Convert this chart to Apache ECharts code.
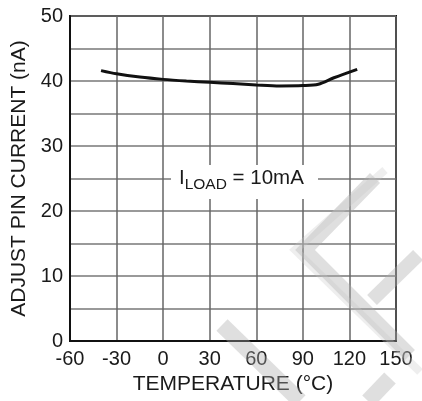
<!DOCTYPE html>
<html>
<head>
<meta charset="utf-8">
<script src="https://cdn.jsdelivr.net/npm/echarts@6/dist/echarts.min.js"></script>
<style>html,body{margin:0;padding:0;background:#fff}#c{width:422px;height:401px}</style>
</head>
<body>
<div id="c"></div>
<script>
const temperature = [-40, -30, -15, 0, 15, 30, 45, 60, 75, 90, 100, 110, 125];
const adjustCurrent = [41.6, 41.1, 40.6, 40.25, 40.0, 39.8, 39.6, 39.4, 39.25, 39.3, 39.5, 40.5, 41.8];
const xTicks = [-60, -30, 0, 30, 60, 90, 120, 150];
const yTicks = [0, 10, 20, 30, 40, 50];

const chart = echarts.init(document.getElementById('c'), null, {renderer: 'canvas'});
const font = 'Liberation Sans, Arial, sans-serif';
const wm = 'rgba(170,170,170,0.38)';
const wm2 = 'rgba(200,200,200,0.3)';
const tc = '#1a1a1a';
chart.setOption({
  animation: false,
  backgroundColor: '#fff',
  grid: {left: 70, right: 26, top: 16, bottom: 60, show: true, borderColor: '#111', borderWidth: 2, backgroundColor: 'transparent'},
  xAxis: {
    type: 'value', min: xTicks[0], max: xTicks[xTicks.length - 1], interval: 30,
    name: 'TEMPERATURE (°C)', nameLocation: 'middle', nameGap: 32,
    nameTextStyle: {fontFamily: font, fontSize: 21, color: tc},
    axisLine: {show: true, onZero: false, lineStyle: {color: '#111', width: 2}},
    axisTick: {show: false},
    axisLabel: {fontFamily: font, fontSize: 20, color: tc, margin: 8,
      formatter: v => xTicks.includes(v) ? String(v) : ''},
    splitLine: {show: true, lineStyle: {color: '#666', width: 1.5}}
  },
  yAxis: {
    type: 'value', min: 0, max: 50, interval: 5,
    name: 'ADJUST PIN CURRENT (nA)', nameLocation: 'middle', nameGap: 34,
    nameTextStyle: {fontFamily: font, fontSize: 21, color: tc},
    axisLine: {show: true, onZero: false, lineStyle: {color: '#111', width: 2}},
    axisTick: {show: false},
    axisLabel: {fontFamily: font, fontSize: 20, color: tc, margin: 7,
      formatter: v => yTicks.includes(v) ? String(v) : ''},
    splitLine: {show: true, lineStyle: {color: '#777', width: 1.5}}
  },
  series: [{
    type: 'line', smooth: 0.3, symbol: 'none',
    data: temperature.map((t, i) => [t, adjustCurrent[i]]),
    lineStyle: {color: '#111', width: 3}
  }],
  graphic: [
    {type: 'rect', shape: {x: 171, y: 165, width: 147, height: 34}, style: {fill: '#fff'}, z: 5},
    {type: 'text', x: 179, y: 168, z: 6, style: {
      text: '{a|I}{b|LOAD}{a| = 10mA}', font: '20px ' + font,
      rich: {
        a: {fontFamily: font, fontSize: 20.5, fill: tc, lineHeight: 22, verticalAlign: 'top'},
        b: {fontFamily: font, fontSize: 15.5, fill: tc, lineHeight: 22, padding: [9, 0, 0, 0], verticalAlign: 'top'}
      }
    }},
    {type: 'polyline', z: 10, shape: {points: [[375, 178], [305, 250], [410, 355]]}, style: {stroke: wm, lineWidth: 14, fill: null}},
    {type: 'polyline', z: 10, shape: {points: [[385, 170], [295, 250], [420, 372]]}, style: {stroke: wm2, lineWidth: 8, fill: null}},
    {type: 'polyline', z: 10, shape: {points: [[418, 255], [372, 300]]}, style: {stroke: wm, lineWidth: 14, fill: null}},
    {type: 'polyline', z: 10, shape: {points: [[222, 325], [300, 401]]}, style: {stroke: wm, lineWidth: 16, fill: null}},
    {type: 'polyline', z: 10, shape: {points: [[390, 378], [368, 401]]}, style: {stroke: wm, lineWidth: 16, fill: null}}
  ]
});
</script>
</body>
</html>
